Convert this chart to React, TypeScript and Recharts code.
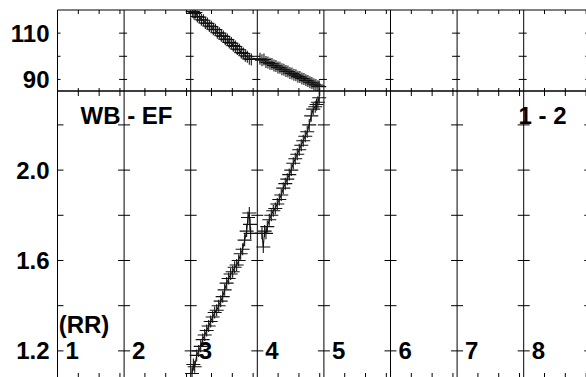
import React from 'react';
import { ScatterChart, Scatter, XAxis, YAxis, ReferenceLine, ReferenceDot } from 'recharts';

// ---- axis / label data ----
const gridColumns = [0, 1, 2, 3, 4, 5, 6, 7, 8];
const columnLabels = ['1', '2', '3', '4', '5', '6', '7', '8'];
const minorTickOffsets = [0.3125, 0.625, 0.9375];

const topDomain = [85, 120];
const topTicks = [90, 100, 110];
const topLabeled = [90, 110];

const bottomDomain = [1.08, 2.35];
const bottomTicks = [1.2, 1.4, 1.6, 1.8, 2.0, 2.2];
const bottomLabeled = [1.2, 1.6, 2.0];

// ---- series: top panel ----
const topColA_x = [2.03, 2.05, 2.07, 2.10, 2.13, 2.16, 2.19, 2.22, 2.25, 2.28, 2.31, 2.34, 2.37, 2.40, 2.43, 2.46, 2.49, 2.52, 2.55, 2.58, 2.61, 2.64, 2.67, 2.70, 2.73, 2.76, 2.79, 2.82, 2.85, 2.88, 2.91];
const topColA_y = [119.3, 118.5, 118.9, 117.2, 116.9, 115.8, 115.6, 114.4, 114.2, 113.1, 112.8, 111.7, 111.5, 110.2, 110.0, 108.9, 108.6, 107.4, 107.2, 106.0, 105.7, 104.6, 104.2, 103.1, 102.8, 101.6, 101.2, 100.2, 99.8, 98.9, 98.6];
const topColB_x = [3.04, 3.07, 3.10, 3.13, 3.16, 3.19, 3.22, 3.25, 3.28, 3.31, 3.34, 3.37, 3.40, 3.43, 3.46, 3.49, 3.52, 3.55, 3.58, 3.61, 3.64, 3.67, 3.70, 3.73, 3.76, 3.79, 3.82, 3.85, 3.88, 3.91, 3.93];
const topColB_y = [98.9, 98.3, 98.6, 97.5, 97.3, 96.8, 96.7, 96.0, 95.8, 95.2, 95.0, 94.4, 94.2, 93.6, 93.4, 92.8, 92.6, 92.0, 91.8, 91.2, 91.0, 90.4, 90.2, 89.6, 89.3, 88.8, 88.5, 87.9, 87.6, 87.1, 86.9];

// ---- series: bottom panel ----
const botColA_x = [2.02, 2.04, 2.06, 2.09, 2.12, 2.15, 2.18, 2.21, 2.24, 2.27, 2.30, 2.33, 2.36, 2.39, 2.42, 2.45, 2.48, 2.51, 2.54, 2.57, 2.60, 2.63, 2.66, 2.69, 2.72, 2.75, 2.78, 2.81, 2.84, 2.86, 2.88, 2.89, 2.90];
const botColA_y = [1.10, 1.14, 1.13, 1.18, 1.20, 1.22, 1.25, 1.27, 1.29, 1.31, 1.33, 1.35, 1.37, 1.38, 1.40, 1.42, 1.44, 1.47, 1.50, 1.52, 1.54, 1.55, 1.57, 1.58, 1.60, 1.63, 1.65, 1.69, 1.73, 1.79, 1.81, 1.76, 1.72];
const botColB_x = [3.07, 3.09, 3.11, 3.13, 3.15, 3.18, 3.21, 3.24, 3.27, 3.30, 3.33, 3.36, 3.39, 3.42, 3.45, 3.48, 3.51, 3.54, 3.57, 3.60, 3.63, 3.66, 3.69, 3.72, 3.75, 3.78, 3.81, 3.84, 3.87, 3.89, 3.91, 3.93];
const botColB_y = [1.72, 1.66, 1.73, 1.72, 1.75, 1.78, 1.80, 1.82, 1.83, 1.85, 1.87, 1.89, 1.92, 1.94, 1.96, 1.98, 2.00, 2.03, 2.05, 2.07, 2.09, 2.11, 2.13, 2.15, 2.17, 2.20, 2.24, 2.27, 2.28, 2.29, 2.30, 2.32];

const zip = (xs: number[], ys: number[]) => xs.map((x, i) => ({ x, y: ys[i] }));
const topData = [...zip(topColA_x, topColA_y), ...zip(topColB_x, topColB_y)];
const bottomData = [...zip(botColA_x, botColA_y), ...zip(botColB_x, botColB_y)];

const FONT = "'Liberation Sans', Arial, Helvetica, sans-serif";
const W = 600;
const H = 380;
const PLOT_RIGHT_MARGIN = 9.7;
const AXIS_W = 57.5;

const Cross = (p: any) => {
  const { cx, cy } = p;
  if (cx == null || cy == null) return <g />;
  return (
    <path d={`M${cx - 7},${cy}H${cx + 7}M${cx},${cy - 6}V${cy + 6}`} stroke="#111" strokeWidth={1.1} fill="none" />
  );
};

const makeYTick = (labeled: number[], digits: number) => (p: any) => {
  const v = p.payload?.value;
  const show = labeled.some((l) => Math.abs(l - v) < 1e-9);
  if (!show) return <g />;
  return (
    <text x={49.5} y={p.y + 8.6} textAnchor="end" fontFamily={FONT} fontWeight="bold" fontSize={24} fill="#000">
      {Number(v).toFixed(digits)}
    </text>
  );
};

const hTick = (left: number, right: number) => (p: any) => (
  <line x1={p.cx - left} x2={p.cx + right} y1={p.cy} y2={p.cy} stroke="#000" strokeWidth={1} />
);
const vTick = (dy: number) => (p: any) => (
  <line x1={p.cx} x2={p.cx} y1={p.cy} y2={p.cy + dy} stroke="#000" strokeWidth={1} />
);

function panelDecor(
  domain: number[],
  ticks: number[],
  leftLen: number,
  rightLen: number,
  topTickLen: number,
  bottomTickLen: number,
  prefix: string
) {
  const els: React.ReactNode[] = [];
  gridColumns.forEach((c) => {
    els.push(<ReferenceLine key={`${prefix}gl${c}`} x={c} stroke="#000" strokeWidth={1} />);
  });
  els.push(<ReferenceLine key={`${prefix}top`} y={domain[1]} stroke="#000" strokeWidth={1} />);
  els.push(<ReferenceLine key={`${prefix}bot`} y={domain[0]} stroke="#000" strokeWidth={1} />);
  gridColumns.forEach((c) => {
    ticks.forEach((t) => {
      const l = c === 0 ? 0 : leftLen;
      const r = c === 8 ? 0 : rightLen;
      els.push(
        <ReferenceDot key={`${prefix}yt${c}-${t}`} x={c} y={t} r={0} shape={hTick(l, r)} />
      );
    });
  });
  gridColumns.slice(0, 8).forEach((c) => {
    minorTickOffsets.forEach((o) => {
      els.push(<ReferenceDot key={`${prefix}xt${c}-${o}`} x={c + o} y={domain[1]} r={0} shape={vTick(topTickLen)} />);
      els.push(<ReferenceDot key={`${prefix}xb${c}-${o}`} x={c + o} y={domain[0]} r={0} shape={vTick(-bottomTickLen)} />);
    });
  });
  return els;
}

const digitLabel = (text: string) => (p: any) => (
  <text x={p.cx + 8} y={p.cy + 8} fontFamily={FONT} fontWeight="bold" fontSize={24} fill="#000">
    {text}
  </text>
);

export default function App() {
  return (
    <div style={{ position: 'absolute', left: 0, top: 0, width: 586, height: 377, overflow: 'hidden', background: '#fff' }}>
      <div style={{ position: 'absolute', left: 0, top: 0 }}>
        <ScatterChart width={W} height={H} margin={{ top: 10, right: PLOT_RIGHT_MARGIN, bottom: H - 91, left: 0 }}>
          <XAxis type="number" dataKey="x" domain={[0, 8]} hide allowDataOverflow />
          <YAxis
            type="number"
            dataKey="y"
            domain={topDomain}
            ticks={topTicks}
            interval={0}
            width={AXIS_W}
            axisLine={false}
            tickLine={false}
            allowDataOverflow
            tick={makeYTick(topLabeled, 0)}
          />
          {panelDecor(topDomain, topTicks, 5, 3, 4, 3, 't')}
          <Scatter data={topData} shape={Cross} line={{ stroke: '#000', strokeWidth: 1 }} isAnimationActive={false} />
        </ScatterChart>
      </div>
      <div style={{ position: 'absolute', left: 0, top: 0 }}>
        <ScatterChart width={W} height={H} margin={{ top: 91, right: PLOT_RIGHT_MARGIN, bottom: H - 378, left: 0 }}>
          <XAxis type="number" dataKey="x" domain={[0, 8]} hide allowDataOverflow />
          <YAxis
            type="number"
            dataKey="y"
            domain={bottomDomain}
            ticks={bottomTicks}
            interval={0}
            width={AXIS_W}
            axisLine={false}
            tickLine={false}
            allowDataOverflow
            tick={makeYTick(bottomLabeled, 1)}
          />
          {panelDecor(bottomDomain, bottomTicks, 6, 6, 5, 5, 'b')}
          {columnLabels.map((lab, i) => (
            <ReferenceDot key={`lab${i}`} x={i} y={1.2} r={0} shape={digitLabel(lab)} />
          ))}
          <Scatter data={bottomData} shape={Cross} line={{ stroke: '#000', strokeWidth: 1 }} isAnimationActive={false} />
        </ScatterChart>
      </div>
      <svg width={586} height={377} style={{ position: 'absolute', left: 0, top: 0, pointerEvents: 'none' }}>
        <g fontFamily={FONT} fontWeight="bold" fontSize={24} fill="#000">
          <text x={80.5} y={124.3}>WB - EF</text>
          <text x={518.5} y={124.3}>1 - 2</text>
          <text x={58.7} y={333}>(RR)</text>
        </g>
      </svg>
    </div>
  );
}
